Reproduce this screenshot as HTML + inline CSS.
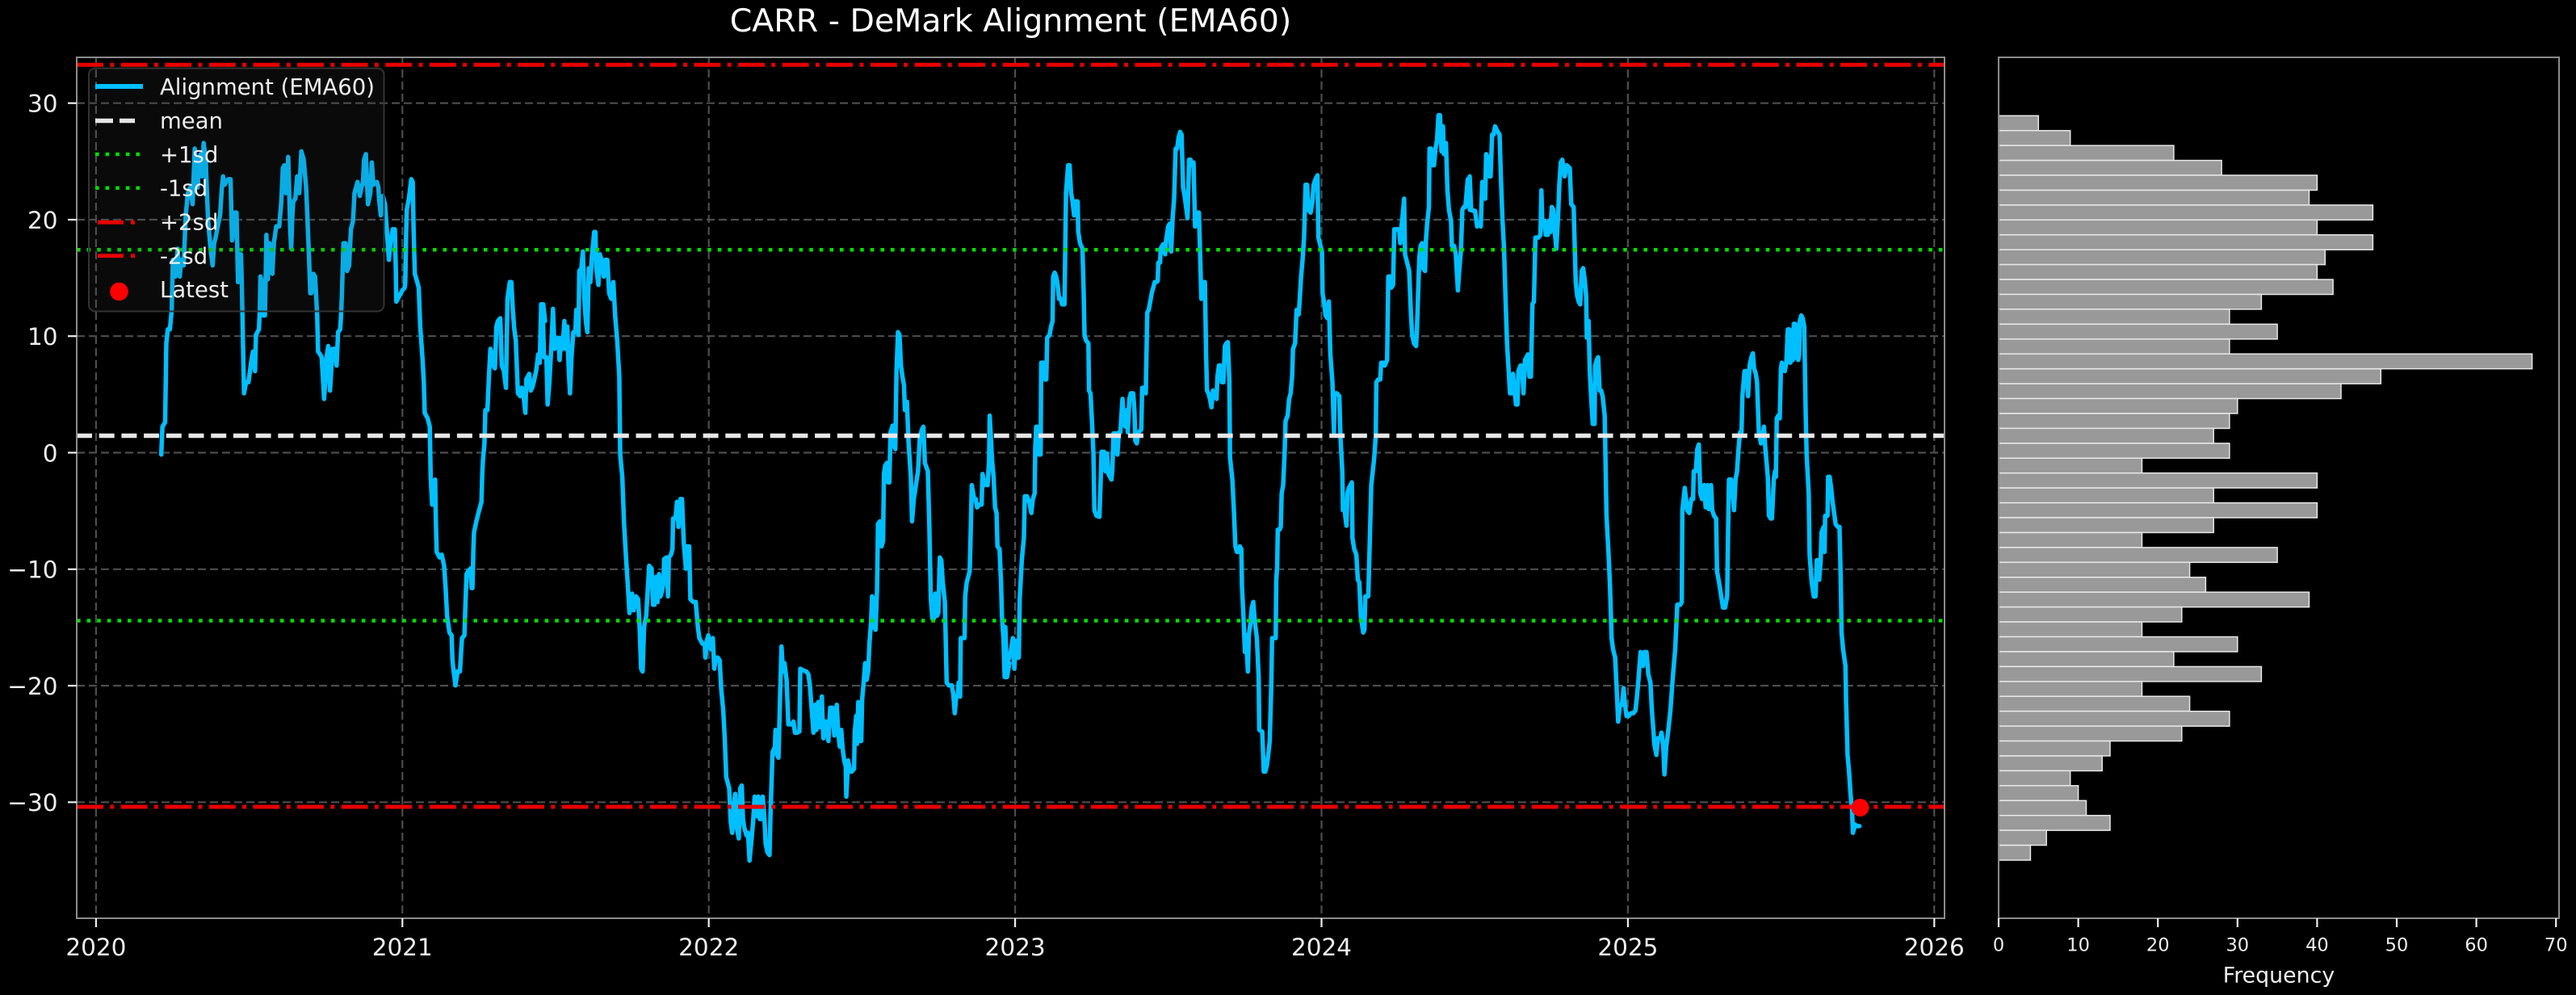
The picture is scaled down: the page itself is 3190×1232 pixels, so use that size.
<!DOCTYPE html>
<html><head><meta charset="utf-8"><style>
html,body{margin:0;padding:0;background:#000;}
svg{display:block;}
text{font-family:"DejaVu Sans","Liberation Sans",sans-serif;fill:#eeeeee;}
</style></head><body>
<svg width="3190" height="1232" viewBox="0 0 3190 1232" xmlns="http://www.w3.org/2000/svg">
<rect x="0" y="0" width="3190" height="1232" fill="#000"/>
<text x="1251.5" y="39" font-size="39.5" text-anchor="middle" style="fill:#ffffff">CARR - DeMark Alignment (EMA60)</text>

<g stroke="#4d4d4d" stroke-width="2.2" stroke-dasharray="10 5" fill="none">
<line x1="95" y1="127.7" x2="2408" y2="127.7"/>
<line x1="95" y1="272" x2="2408" y2="272"/>
<line x1="95" y1="416.2" x2="2408" y2="416.2"/>
<line x1="95" y1="560.5" x2="2408" y2="560.5"/>
<line x1="95" y1="704.8" x2="2408" y2="704.8"/>
<line x1="95" y1="849" x2="2408" y2="849"/>
<line x1="95" y1="993.3" x2="2408" y2="993.3"/>
<line x1="118.9" y1="71" x2="118.9" y2="1137"/>
<line x1="498.3" y1="71" x2="498.3" y2="1137"/>
<line x1="877.7" y1="71" x2="877.7" y2="1137"/>
<line x1="1257.1" y1="71" x2="1257.1" y2="1137"/>
<line x1="1636.5" y1="71" x2="1636.5" y2="1137"/>
<line x1="2015.9" y1="71" x2="2015.9" y2="1137"/>
<line x1="2395.3" y1="71" x2="2395.3" y2="1137"/>
</g>

<g fill="none" stroke="#00bfff" stroke-width="5.5" stroke-linejoin="round" stroke-linecap="round">
<polyline vector-effect="non-scaling-stroke" transform="translate(95,60) scale(0.369898,0.688776)" points="283,730 287,680 296,672 300,530 305,505 312,505 318,470 322,380 330,410 338,360 345,410 350,380 358,390 365,300 372,260 380,250 388,280 395,180 400,240 405,250 410,200 415,190 420,230 425,170 432,200 436,260 440,310 448,360 455,390 460,350 465,340 472,320 480,300 486,250 490,230 495,245 500,240 508,235 515,235 520,345 525,330 528,295 535,295 540,420 545,370 550,370 553,430 560,620 567,600 575,600 580,580 585,560 590,545 597,580 600,515 610,505 613,470 615,410 620,420 625,480 630,480 633,400 635,335 638,380 640,415 645,350 650,360 655,405 660,350 668,320 678,320 685,275 690,215 695,210 700,260 705,240 708,195 712,270 715,330 718,360 722,300 725,275 732,270 738,230 745,260 752,185 760,200 768,250 772,300 778,380 782,440 785,440 792,405 798,410 802,450 805,480 808,545 815,550 820,555 825,600 828,630 832,600 835,560 842,535 848,615 852,580 856,540 865,540 870,570 875,510 882,505 885,480 888,440 893,350 900,350 905,400 912,390 918,325 925,310 930,260 940,240 945,255 948,265 955,245 958,245 962,200 968,190 972,240 975,280 983,260 988,205 993,245 1005,240 1010,250 1012,270 1018,300 1025,265 1032,280 1036,310 1040,340 1045,380 1050,350 1058,325 1065,325 1068,390 1070,455 1080,445 1090,435 1098,430 1100,420 1103,330 1105,290 1112,270 1120,235 1125,240 1128,330 1132,405 1140,420 1145,430 1150,500 1158,560 1162,600 1165,655 1175,665 1182,680 1185,770 1190,820 1195,780 1200,775 1202,840 1205,905 1215,915 1222,910 1230,930 1235,970 1240,1020 1248,1050 1255,1055 1258,1100 1262,1120 1268,1145 1275,1120 1283,1120 1288,1075 1290,1060 1298,1055 1302,990 1305,945 1310,940 1318,935 1322,970 1325,970 1328,900 1330,870 1338,850 1345,835 1355,815 1358,760 1360,740 1365,710 1368,650 1375,650 1380,590 1385,540 1390,550 1395,570 1400,575 1405,500 1410,490 1418,485 1423,570 1430,580 1437,610 1440,520 1442,450 1450,420 1455,420 1460,470 1465,505 1470,525 1474,580 1477,620 1485,625 1490,610 1495,620 1502,655 1505,595 1510,590 1515,585 1520,615 1525,610 1530,600 1538,580 1545,550 1550,565 1555,460 1562,460 1568,490"/>
<polyline vector-effect="non-scaling-stroke" transform="translate(670,60) scale(0.369898,0.688776)" points="0,460 5,460 10,555 18,555 22,640 28,600 35,530 40,468 45,540 52,535 58,520 62,560 68,520 72,540 78,490 82,540 88,500 92,570 97,620 102,555 108,510 115,510 118,470 125,515 128,400 135,395 140,365 145,450 150,490 155,510 160,395 165,420 170,375 178,330 182,330 185,395 192,425 197,370 205,385 210,410 215,380 222,380 228,440 235,450 242,420 248,480 255,525 262,590 265,730 272,770 278,855 285,920 290,960 296,1015 300,985 305,980 310,1010 318,985 325,990 330,1040 335,1115 340,1120 345,1040 352,1020 357,975 362,930 370,935 375,1000 380,1000 385,950 390,995 395,945 400,985 405,975 410,960 412,918 420,915 425,985 428,915 435,910 440,900 442,845 450,845 455,815 460,860 467,810 472,810 478,890 485,935 490,895 496,895 500,990 510,995 518,995 525,1040 530,1060 540,1070 548,1070 550,1095 555,1065 560,1055 568,1080 575,1060 580,1115 585,1095 592,1095 598,1100 603,1150 610,1190 615,1240 620,1310 625,1320 630,1330 635,1390 640,1410 645,1365 650,1340 655,1400 662,1420 667,1330 672,1325 676,1385 680,1400 688,1415 693,1410 698,1460 705,1420 710,1390 715,1345 720,1380 727,1345 732,1385 738,1385 742,1345 748,1385 752,1430 758,1445 765,1450 768,1380 775,1265 783,1255 785,1225 790,1270 795,1275 800,1170 805,1075 810,1120 815,1105 822,1135 828,1215 835,1215 840,1215 845,1210 850,1230 857,1230 865,1228 868,1115 878,1118 888,1120 895,1125 900,1145 905,1180 912,1230 918,1180 922,1225 928,1175 933,1220 940,1165 945,1240 950,1210 955,1210 962,1245 968,1185 975,1185 982,1235 990,1180 995,1230 1000,1255 1005,1225 1010,1260 1015,1280 1020,1290 1022,1345 1028,1280 1035,1300 1040,1300 1048,1295 1050,1230 1055,1200 1058,1250 1062,1175 1068,1245 1072,1245 1075,1170 1080,1140 1085,1105 1090,1135 1095,1120 1100,1065 1105,1030 1108,985 1112,990 1115,1040 1120,1045 1125,970 1128,855 1135,850 1140,895 1145,885 1148,765 1152,750 1158,745 1162,780 1166,780 1170,690 1177,678 1182,715 1186,720 1190,580 1195,510 1200,515 1205,570 1210,590 1215,605 1218,650 1225,635 1230,705 1238,770 1242,850 1248,810 1255,785 1262,760 1268,700 1275,685 1280,680 1285,745 1295,760 1300,860 1305,990 1310,1025 1315,1025 1320,980 1325,1020 1330,1015 1335,915 1340,920 1345,960 1352,995 1358,1140 1365,1145 1375,1145 1380,1160 1385,1195 1390,1165 1395,1165 1398,1140 1403,1165 1405,1060 1412,1060 1418,1060 1420,985 1425,960 1435,940 1437,900 1442,785 1450,810 1455,810 1460,825 1468,820 1475,820 1478,765 1485,785 1490,780 1495,785 1500,740 1502,660 1505,690 1510,740 1515,770 1520,825 1525,835 1528,895 1535,900 1540,960 1543,1020 1548,1060 1552,1130 1560,1130 1568,1105"/>
<polyline vector-effect="non-scaling-stroke" transform="translate(1245,60) scale(0.369898,0.688776)" points="0,1040 5,1130 10,1100 18,1085 25,1060 30,1115 35,1065 40,1095 45,1095 48,990 55,920 62,880 65,805 72,805 80,815 87,835 92,810 98,800 100,720 103,680 108,680 112,730 118,730 120,565 128,565 132,595 137,595 140,520 148,515 153,500 158,490 160,410 165,403 170,410 175,425 180,450 185,450 190,460 198,460 203,260 210,210 215,210 220,260 225,275 230,300 235,275 242,275 244,330 250,350 258,360 262,435 265,515 270,525 278,530 280,615 285,620 290,670 295,730 298,830 305,840 315,842 320,760 322,725 330,725 335,760 340,728 345,765 350,770 355,775 358,760 362,692 370,692 375,730 380,690 385,690 392,630 398,675 402,680 408,650 410,690 415,630 420,620 428,620 432,650 435,705 440,710 445,690 450,688 455,685 458,610 465,610 470,620 475,475 480,470 485,455 490,440 495,430 500,420 505,420 510,418 512,385 518,385 520,360 528,352 535,370 538,345 545,320 550,315 555,365 560,305 565,270 570,180 575,180 580,160 585,150 590,155 595,250 600,265 605,285 610,305 615,200 620,200 625,210 630,205 635,320 640,295 648,295 652,370 656,450 662,420 668,420 672,550 675,615 680,620 685,630 690,645 695,615 700,620 707,630 710,590 715,570 720,570 725,600 730,600 735,535 740,530 745,528 750,600 752,735 760,775 765,830 770,895 775,905 780,905 785,895 790,900 792,965 797,1020 802,1085 805,1055 812,1120 815,1055 820,1035 825,1005 830,995 835,1030 842,1060 848,1130 850,1225 860,1228 865,1300 870,1300 875,1290 880,1270 885,1245 890,1150 893,1060 900,1060 905,1060 907,955 910,930 912,865 918,865 922,860 925,800 930,785 935,725 938,670 945,660 950,630 955,620 960,590 963,540 970,530 975,470 982,478 985,455 990,410 995,380 1000,340 1005,245 1010,245 1015,290 1022,295 1028,275 1032,245 1038,235 1045,228 1048,340 1055,355 1060,365 1062,440 1068,460 1072,480 1078,485 1083,455 1088,550 1095,600 1100,690 1102,620 1110,620 1118,625 1122,700 1128,760 1130,830 1135,825 1140,850 1142,858 1145,800 1150,790 1155,785 1160,780 1162,880 1168,900 1175,910 1180,955 1185,960 1190,1020 1198,1050 1202,1045 1205,985 1210,985 1215,985 1220,885 1225,785 1230,760 1235,735 1240,695 1242,600 1248,595 1255,595 1258,565 1265,565 1270,570 1278,560 1282,410 1288,410 1292,430 1298,425 1302,325 1310,325 1318,325 1322,350 1325,325 1330,300 1335,270 1338,370 1345,385 1352,400 1358,480 1362,515 1368,530 1375,535 1378,505 1383,420 1386,375 1390,355 1395,350 1398,395 1405,400 1408,345 1412,315 1418,285 1420,180 1425,180 1430,210 1435,210 1440,180 1445,165 1450,120 1455,120 1460,185 1465,140 1468,190 1475,170 1480,255 1485,290 1492,310 1495,355 1502,355 1508,370 1515,435 1520,395 1525,365 1530,290 1535,285 1540,285 1548,235 1555,290 1568,292"/>
<polyline vector-effect="non-scaling-stroke" transform="translate(1820,60) scale(0.369898,0.688776)" points="0,230 5,290 18,292 25,320 32,315 37,320 42,240 47,240 52,270 55,190 60,195 65,230 70,230 75,155 80,155 85,140 92,148 100,155 105,240 110,310 115,360 120,450 125,530 130,575 135,620 140,620 145,585 150,615 155,640 160,640 163,580 170,570 175,570 180,620 185,560 190,555 195,550 200,590 205,590 210,460 215,455 220,340 230,340 237,335 240,255 243,310 250,310 255,335 262,335 265,310 270,330 275,285 280,290 285,330 290,360 296,300 300,245 305,205 310,200 318,230 325,210 335,215 340,280 348,285 355,420 360,445 365,455 370,460 375,400 380,395 385,415 390,445 392,520 398,490 402,580 408,640 412,675 418,675 420,570 425,560 430,555 435,615 440,615 445,625 452,660 458,840 465,910 470,970 475,1060 480,1080 487,1095 492,1150 497,1210 503,1180 510,1180 515,1150 520,1180 525,1200 532,1200 540,1195 548,1195 555,1190 560,1165 565,1135 572,1085 580,1110 585,1085 592,1085 598,1125 605,1140 610,1190 615,1225 618,1250 625,1270 630,1240 638,1240 642,1230 648,1255 652,1305 658,1255 665,1225 672,1190 680,1130 688,1080 695,1000 705,1000 710,995 712,830 720,790 728,830 735,835 742,810 748,810 750,760 757,760 762,720 767,712 772,800 778,810 785,785 790,825 796,785 800,828 808,785 812,830 818,840 825,845 828,940 835,960 842,985 848,1005 855,1005 862,985 865,870 868,775 875,775 880,795 885,830 890,775 895,760 900,720 905,690 910,690 913,625 920,580 928,580 932,625 937,570 943,555 948,548 952,575 958,585 962,600 968,690 975,710 980,700 985,680 990,720 998,770 1002,840 1008,845 1012,845 1018,775 1022,760 1025,770 1028,665 1033,660 1038,665 1042,575 1045,565 1050,570 1055,580 1060,565 1065,505 1070,505 1073,565 1078,560 1082,560 1085,495 1090,495 1093,555 1100,560 1103,550 1105,490 1110,480 1115,485 1120,500 1125,660 1128,730 1135,800 1138,910 1145,960 1152,985 1158,985 1162,920 1168,920 1170,955 1175,920 1178,870 1185,860 1188,905 1190,840 1198,840 1200,770 1205,770 1210,790 1215,815 1225,855 1232,860 1238,860 1242,950 1245,1050 1250,1080 1258,1110 1260,1170 1265,1270 1270,1300 1275,1340 1280,1370 1283,1410 1290,1395 1296,1398 1305,1398"/>
</g>

<line x1="95" y1="539.5" x2="2408" y2="539.5" stroke="#e6e6e6" stroke-width="5.5" stroke-dasharray="19 8.7"/>
<line x1="95" y1="309.3" x2="2408" y2="309.3" stroke="#00e000" stroke-width="4.5" stroke-dasharray="4.6 8"/>
<line x1="95" y1="768.5" x2="2408" y2="768.5" stroke="#00e000" stroke-width="4.5" stroke-dasharray="4.6 8"/>
<line x1="95" y1="80.3" x2="2408" y2="80.3" stroke="#e60000" stroke-width="5" stroke-dasharray="33 8.3 5 8.3"/>
<line x1="95" y1="999" x2="2408" y2="999" stroke="#e60000" stroke-width="5" stroke-dasharray="33 8.3 5 8.3"/>

<circle cx="2303.5" cy="1000" r="11" fill="#ff0000"/>

<rect x="95" y="71" width="2313" height="1066" fill="none" stroke="#8c8c8c" stroke-width="2"/>

<g stroke="#eeeeee" stroke-width="2.2">
<line x1="84" y1="127.7" x2="95" y2="127.7"/>
<line x1="84" y1="272" x2="95" y2="272"/>
<line x1="84" y1="416.2" x2="95" y2="416.2"/>
<line x1="84" y1="560.5" x2="95" y2="560.5"/>
<line x1="84" y1="704.8" x2="95" y2="704.8"/>
<line x1="84" y1="849" x2="95" y2="849"/>
<line x1="84" y1="993.3" x2="95" y2="993.3"/>
<line x1="118.9" y1="1137" x2="118.9" y2="1148"/>
<line x1="498.3" y1="1137" x2="498.3" y2="1148"/>
<line x1="877.7" y1="1137" x2="877.7" y2="1148"/>
<line x1="1257.1" y1="1137" x2="1257.1" y2="1148"/>
<line x1="1636.5" y1="1137" x2="1636.5" y2="1148"/>
<line x1="2015.9" y1="1137" x2="2015.9" y2="1148"/>
<line x1="2395.3" y1="1137" x2="2395.3" y2="1148"/>
</g>
<g font-size="29.5" text-anchor="end">
<text x="71.5" y="138.5">30</text>
<text x="71.5" y="282.8">20</text>
<text x="71.5" y="427">10</text>
<text x="71.5" y="571.3">0</text>
<text x="71.5" y="715.6">−10</text>
<text x="71.5" y="859.8">−20</text>
<text x="71.5" y="1004.1">−30</text>
</g>
<g font-size="29.5" text-anchor="middle">
<text x="118.9" y="1183">2020</text>
<text x="498.3" y="1183">2021</text>
<text x="877.7" y="1183">2022</text>
<text x="1257.1" y="1183">2023</text>
<text x="1636.5" y="1183">2024</text>
<text x="2015.9" y="1183">2025</text>
<text x="2395.3" y="1183">2026</text>
</g>

<rect x="110" y="84.5" width="365.5" height="301" rx="8" ry="8" fill="rgba(66,66,66,0.15)" stroke="#333333" stroke-width="2"/>
<line x1="118" y1="107" x2="177" y2="107" stroke="#00bfff" stroke-width="6"/>
<line x1="118" y1="149.5" x2="140" y2="149.5" stroke="#e6e6e6" stroke-width="5.5"/>
<line x1="148" y1="149.5" x2="167" y2="149.5" stroke="#e6e6e6" stroke-width="5.5"/>
<line x1="118" y1="191" x2="177" y2="191" stroke="#00e000" stroke-width="4.5" stroke-dasharray="4.6 8"/>
<line x1="118" y1="232.7" x2="177" y2="232.7" stroke="#00e000" stroke-width="4.5" stroke-dasharray="4.6 8"/>
<line x1="121" y1="275.3" x2="153" y2="275.3" stroke="#e60000" stroke-width="5"/>
<line x1="162" y1="275.3" x2="167" y2="275.3" stroke="#e60000" stroke-width="5"/>
<line x1="121" y1="316.7" x2="153" y2="316.7" stroke="#e60000" stroke-width="5"/>
<line x1="162" y1="316.7" x2="167" y2="316.7" stroke="#e60000" stroke-width="5"/>
<circle cx="147.5" cy="361" r="11.3" fill="#ff0000"/>
<g font-size="27.5">
<text x="198" y="117">Alignment (EMA60)</text>
<text x="198" y="159">mean</text>
<text x="198" y="200.8">+1sd</text>
<text x="198" y="242.6">-1sd</text>
<text x="198" y="284.5">+2sd</text>
<text x="198" y="326.3">-2sd</text>
<text x="198" y="368">Latest</text>
</g>

<g fill="#999999" stroke="#e8e8e8" stroke-width="1.5">
<rect x="2475" y="143.3" width="49.3" height="18.43"/>
<rect x="2475" y="161.7" width="88.7" height="18.43"/>
<rect x="2475" y="180.2" width="216.9" height="18.43"/>
<rect x="2475" y="198.6" width="276.1" height="18.43"/>
<rect x="2475" y="217.0" width="394.4" height="18.43"/>
<rect x="2475" y="235.5" width="384.5" height="18.43"/>
<rect x="2475" y="253.9" width="463.4" height="18.43"/>
<rect x="2475" y="272.3" width="394.4" height="18.43"/>
<rect x="2475" y="290.8" width="463.4" height="18.43"/>
<rect x="2475" y="309.2" width="404.3" height="18.43"/>
<rect x="2475" y="327.6" width="394.4" height="18.43"/>
<rect x="2475" y="346.1" width="414.1" height="18.43"/>
<rect x="2475" y="364.5" width="325.4" height="18.43"/>
<rect x="2475" y="382.9" width="285.9" height="18.43"/>
<rect x="2475" y="401.4" width="345.1" height="18.43"/>
<rect x="2475" y="419.8" width="285.9" height="18.43"/>
<rect x="2475" y="438.2" width="660.6" height="18.43"/>
<rect x="2475" y="456.7" width="473.3" height="18.43"/>
<rect x="2475" y="475.1" width="424.0" height="18.43"/>
<rect x="2475" y="493.5" width="295.8" height="18.43"/>
<rect x="2475" y="512.0" width="285.9" height="18.43"/>
<rect x="2475" y="530.4" width="266.2" height="18.43"/>
<rect x="2475" y="548.9" width="285.9" height="18.43"/>
<rect x="2475" y="567.3" width="177.5" height="18.43"/>
<rect x="2475" y="585.7" width="394.4" height="18.43"/>
<rect x="2475" y="604.2" width="266.2" height="18.43"/>
<rect x="2475" y="622.6" width="394.4" height="18.43"/>
<rect x="2475" y="641.0" width="266.2" height="18.43"/>
<rect x="2475" y="659.5" width="177.5" height="18.43"/>
<rect x="2475" y="677.9" width="345.1" height="18.43"/>
<rect x="2475" y="696.3" width="236.6" height="18.43"/>
<rect x="2475" y="714.8" width="256.4" height="18.43"/>
<rect x="2475" y="733.2" width="384.5" height="18.43"/>
<rect x="2475" y="751.6" width="226.8" height="18.43"/>
<rect x="2475" y="770.1" width="177.5" height="18.43"/>
<rect x="2475" y="788.5" width="295.8" height="18.43"/>
<rect x="2475" y="806.9" width="216.9" height="18.43"/>
<rect x="2475" y="825.4" width="325.4" height="18.43"/>
<rect x="2475" y="843.8" width="177.5" height="18.43"/>
<rect x="2475" y="862.2" width="236.6" height="18.43"/>
<rect x="2475" y="880.7" width="285.9" height="18.43"/>
<rect x="2475" y="899.1" width="226.8" height="18.43"/>
<rect x="2475" y="917.5" width="138.0" height="18.43"/>
<rect x="2475" y="936.0" width="128.2" height="18.43"/>
<rect x="2475" y="954.4" width="88.7" height="18.43"/>
<rect x="2475" y="972.8" width="98.6" height="18.43"/>
<rect x="2475" y="991.3" width="108.5" height="18.43"/>
<rect x="2475" y="1009.7" width="138.0" height="18.43"/>
<rect x="2475" y="1028.1" width="59.2" height="18.43"/>
<rect x="2475" y="1046.6" width="39.4" height="18.43"/>
</g>
<rect x="2475" y="71" width="694" height="1066" fill="none" stroke="#8c8c8c" stroke-width="2"/>
<g stroke="#eeeeee" stroke-width="2.2">
<line x1="2475" y1="1137" x2="2475" y2="1148"/>
<line x1="2573.6" y1="1137" x2="2573.6" y2="1148"/>
<line x1="2672.2" y1="1137" x2="2672.2" y2="1148"/>
<line x1="2770.8" y1="1137" x2="2770.8" y2="1148"/>
<line x1="2869.4" y1="1137" x2="2869.4" y2="1148"/>
<line x1="2968" y1="1137" x2="2968" y2="1148"/>
<line x1="3066.6" y1="1137" x2="3066.6" y2="1148"/>
<line x1="3165.2" y1="1137" x2="3165.2" y2="1148"/>
</g>
<g font-size="22.5" text-anchor="middle">
<text x="2475" y="1177.5">0</text>
<text x="2573.6" y="1177.5">10</text>
<text x="2672.2" y="1177.5">20</text>
<text x="2770.8" y="1177.5">30</text>
<text x="2869.4" y="1177.5">40</text>
<text x="2968" y="1177.5">50</text>
<text x="3066.6" y="1177.5">60</text>
<text x="3165.2" y="1177.5">70</text>
</g>
<text x="2822" y="1216.5" font-size="26.8" text-anchor="middle">Frequency</text>
</svg>
</body></html>
